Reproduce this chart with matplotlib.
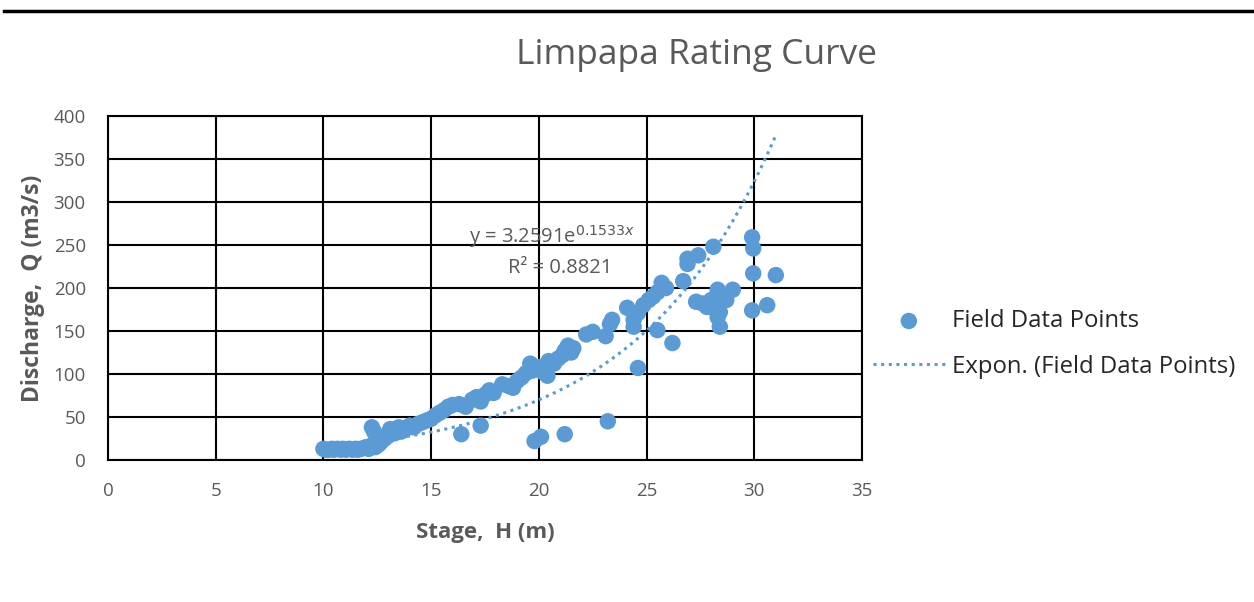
import numpy as np
import matplotlib
matplotlib.use("Agg")
import matplotlib.pyplot as plt
from matplotlib.lines import Line2D

plt.rcParams['font.family'] = ['Open Sans', 'DejaVu Sans']

# Field data: stage H (m) and discharge Q (m3/s)
stage = [10.0, 10.1, 10.25, 10.4, 10.5, 10.65, 10.8, 10.9, 11.05, 11.2, 11.35, 11.5,
         11.6, 11.75, 11.9, 12.0, 12.1, 12.2, 12.3, 12.4, 12.5, 12.6, 12.25, 12.35,
         12.5, 12.7, 12.85, 13.0, 13.1, 13.3, 13.5, 13.6, 13.8, 14.0, 14.2, 14.4,
         14.6, 14.8, 15.0, 15.2, 15.4, 15.6, 15.8, 16.0, 16.3, 16.4, 16.6, 16.9,
         17.1, 17.3, 17.3, 17.5, 17.7, 17.9, 18.3, 18.6, 18.8, 19.0, 19.2, 19.4,
         19.6, 19.7, 19.8, 19.9, 20.05, 20.1, 20.2, 20.4, 20.45, 20.7, 20.9, 21.1,
         21.2, 21.2, 21.35, 21.5, 21.6, 22.2, 22.5, 23.1, 23.2, 23.3, 23.4, 24.1,
         24.4, 24.4, 24.6, 24.6, 24.85, 25.1, 25.3, 25.5, 25.5, 25.7, 25.9, 26.2,
         26.7, 26.9, 26.9, 27.4, 27.3, 27.6, 27.8, 28.0, 28.1, 28.2, 28.3, 28.3,
         28.3, 28.4, 28.4, 28.5, 28.7, 29.0, 29.9, 29.95, 29.95, 29.9, 30.6, 31.0]
discharge = [13, 12, 12, 13, 12, 13, 12, 13, 12, 13, 12, 13,
             12, 13, 14, 15, 13, 16, 18, 15, 17, 19, 38, 33,
             27, 22, 25, 28, 36, 31, 38, 33, 36, 40, 38, 42,
             44, 46, 48, 52, 55, 58, 62, 64, 65, 30, 62, 70,
             73, 40, 68, 76, 81, 78, 88, 86, 84, 92, 96, 101,
             112, 104, 22, 106, 108, 27, 102, 98, 115, 112, 118, 122,
             30, 127, 133, 125, 130, 146, 149, 144, 45, 158, 163, 177,
             163, 155, 107, 171, 180, 186, 190, 151, 195, 206, 200, 136,
             208, 228, 234, 238, 184, 182, 178, 186, 248, 175, 198, 183,
             166, 155, 172, 190, 186, 198, 259, 246, 217, 174, 180, 215]

# exponential trendline as shown on the chart
trend_a = 3.2591
trend_b = 0.1533

blue = '#5B9BD5'
grey = '#595959'

fig = plt.figure(figsize=(12.54, 6.02), dpi=100)
ax = fig.add_axes([108/1254, 1-460/602, (862-108)/1254, (460-116)/602])

ax.scatter(stage, discharge, s=140, color=blue, edgecolors='none', zorder=3,
           label='Field Data Points')
xt = np.linspace(min(stage), max(stage), 200)
ax.plot(xt, trend_a*np.exp(trend_b*xt), color=blue, lw=2.2,
        linestyle=(0, (1, 1.5)), zorder=4, label='Expon. (Field Data Points)')

ax.set_xlim(0, 35)
ax.set_ylim(0, 400)
ax.set_xticks(range(0, 36, 5))
ax.set_yticks(range(0, 401, 50))
ax.grid(True, color='black', lw=1.5, zorder=1)
ax.set_axisbelow(True)
for s in ax.spines.values():
    s.set_color('black')
    s.set_linewidth(1.5)
ax.tick_params(length=0, pad=16, labelsize=13.5, labelcolor=grey)

ax.set_xlabel('Stage,  H (m)', fontsize=16, fontweight='bold', color=grey, labelpad=16)
ax.set_ylabel('Discharge,  Q (m3/s)', fontsize=16.5, fontweight='bold', color=grey, labelpad=6)

fig.text(697/1254, 1-55/602, 'Limpapa Rating Curve', fontsize=25.5, color=grey,
         ha='center', va='center')

ax.text(20.6, 260, 'y = 3.2591e$^{0.1533x}$', fontsize=14.5, color=grey, ha='center', va='center')
ax.text(21.0, 223, 'R² = 0.8821', fontsize=14.5, color=grey, ha='center', va='center')

fig.legend(loc='center left', bbox_to_anchor=(873/1254, 1-344/602), frameon=False,
           fontsize=17.2, handlelength=3.0, handletextpad=0.3, labelspacing=0.9,
           borderpad=0, borderaxespad=0, scatterpoints=1, labelcolor='#262626')

fig.add_artist(Line2D([4/1254, 1], [1-11/602, 1-11/602], color='black', lw=2.5,
                      transform=fig.transFigure))

plt.savefig('out.png', dpi=100)
